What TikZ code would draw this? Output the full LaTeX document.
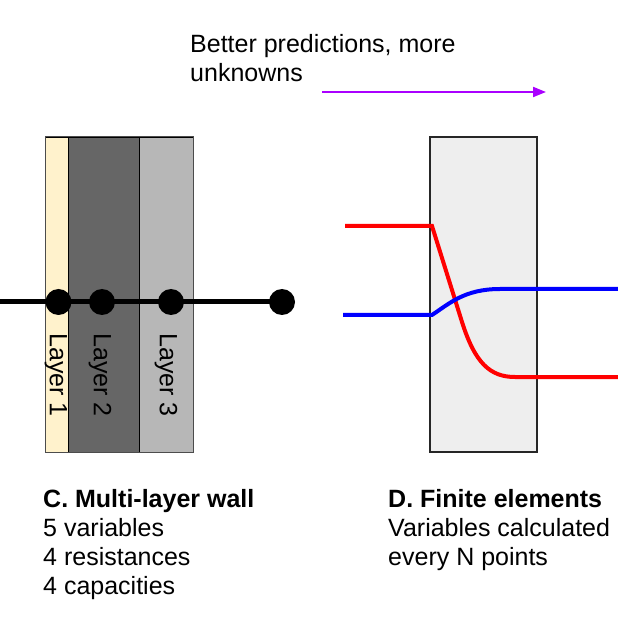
\documentclass[tikz,border=0pt]{standalone}
\usepackage{fontspec}
\setmainfont{Liberation Sans}
\usetikzlibrary{arrows.meta}
\definecolor{cream}{HTML}{FFF2CC}
\definecolor{darkgrey}{HTML}{666666}
\definecolor{midgrey}{HTML}{B7B7B7}
\definecolor{boxgrey}{HTML}{EEEEEE}
\definecolor{violet}{HTML}{AA00FF}
\tikzset{
  txt/.style={font=\fontsize{25}{29}\selectfont, inner sep=0pt, anchor=north west, align=left},
  layerlabel/.style={font=\fontsize{25}{29}\selectfont, inner sep=0pt, rotate=-90, anchor=center},
  dot/.style={circle, fill=black, minimum size=26pt, inner sep=0pt},
  curve/.style={line width=4pt},
}
\begin{document}
\begin{tikzpicture}[x=1pt,y=-1pt]
\useasboundingbox (0,0) rectangle (618,617);
% top label and arrow
\node[txt] (top) at (190,33.8) {Better predictions, more\\unknowns};
\coordinate (arrS) at (322,92);
\coordinate (arrE) at (546,92);
\draw[violet, line width=2pt, -{Triangle[length=13pt,width=10pt]}] (arrS) -- (arrE);
% multi-layer wall
\filldraw[fill=cream, draw=black, line width=0.8pt] (45,137) rectangle (68,452);
\filldraw[fill=darkgrey, draw=black, line width=0.8pt] (68,137) rectangle (139,452);
\filldraw[fill=midgrey, draw=black, line width=0.8pt] (139,137) rectangle (193,452);
\draw[black!70, line width=1pt] (45,137) rectangle (193,452);
\node[layerlabel] (l1) at (56,375) {Layer 1};
\node[layerlabel] (l2) at (100,375) {Layer 2};
\node[layerlabel] (l3) at (166,375) {Layer 3};
\coordinate (lineS) at (0,302);
\node[dot] (d1) at (58.5,302) {};
\node[dot] (d2) at (102,302) {};
\node[dot] (d3) at (171,302) {};
\node[dot] (d4) at (282,302) {};
\draw[line width=5pt] (lineS) -- (d4.center);
% finite elements
\filldraw[fill=boxgrey, draw=black!85, line width=2pt] (430,137.5) rectangle (536.5,451.5);
\coordinate (rS) at (345,226);
\coordinate (rA) at (432,226);
\coordinate (rB) at (462,322);
\coordinate (rC) at (515,377);
\coordinate (rE) at (618,377);
\draw[curve, red] (rS) -- (rA) -- (rB) .. controls (475,363) and (490,377) .. (rC) -- (rE);
\coordinate (bS) at (343,315);
\coordinate (bA) at (432,315);
\coordinate (bC) at (500,289);
\coordinate (bE) at (618,289);
\draw[curve, blue] (bS) -- (bA) .. controls (450,303) and (465,289) .. (bC) -- (bE);
% captions
\node[txt] (capC) at (43,489.4) {\textbf{C. Multi-layer wall}\\5 variables\\4 resistances\\4 capacities};
\node[txt] (capD) at (388,489.4) {\textbf{D. Finite elements}\\Variables calculated\\every N points};
\end{tikzpicture}
\end{document}
